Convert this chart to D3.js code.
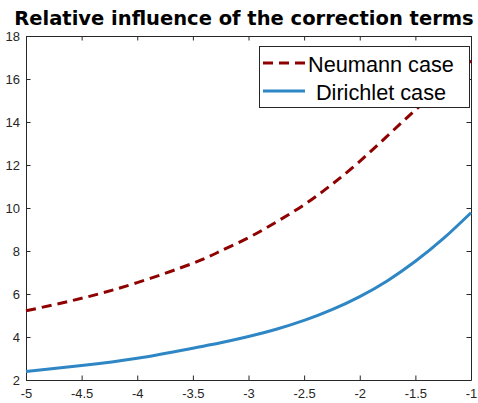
<!DOCTYPE html>
<html>
<head>
<meta charset="utf-8">
<script src="https://cdn.jsdelivr.net/npm/d3@7"></script>
<style>
  html, body { margin: 0; padding: 0; background: #fff; }
  svg { display: block; }
</style>
</head>
<body>
<svg id="chart" width="478" height="403"></svg>
<script>
const titleText = "Relative influence of the correction terms";
const xValues = [-5, -4.5, -4, -3.5, -3.25, -3, -2.75, -2.5, -2.25, -2, -1.75, -1.5, -1.25, -1];
const neumannValues = [5.22, 5.80, 6.53, 7.43, 8.0, 8.62, 9.35, 10.15, 11.1, 12.17, 13.36, 14.56, 15.71, 16.85];
const dirichletValues = [2.40, 2.67, 3.01, 3.48, 3.73, 4.02, 4.36, 4.77, 5.27, 5.88, 6.62, 7.52, 8.57, 9.78];
const seriesNames = ["Neumann case", "Dirichlet case"];
const xTicks = [-5, -4.5, -4, -3.5, -3, -2.5, -2, -1.5, -1];
const yTicks = [2, 4, 6, 8, 10, 12, 14, 16, 18];

const svg = d3.select("#chart");
const L = 26, R = 471, T = 36, B = 380;
const x = d3.scaleLinear().domain([-5, -1]).range([L, R]);
const y = d3.scaleLinear().domain([2, 18]).range([B, T]);
const axisColor = "#262626";
const font = "'Liberation Sans', Arial, Helvetica, sans-serif";
const fmt = d => String(d);

// Axes with inward ticks
const tl = 4.5;
const gx = svg.append("g").attr("transform", `translate(0,${B})`)
  .call(d3.axisBottom(x).tickValues(xTicks).tickSizeInner(-tl).tickSizeOuter(0).tickPadding(9).tickFormat(fmt));
const gxt = svg.append("g").attr("transform", `translate(0,${T})`)
  .call(d3.axisTop(x).tickValues(xTicks).tickSizeInner(-tl).tickSizeOuter(0).tickFormat(""));
const gy = svg.append("g").attr("transform", `translate(${L},0)`)
  .call(d3.axisLeft(y).tickValues(yTicks).tickSizeInner(-tl).tickSizeOuter(0).tickPadding(6).tickFormat(fmt));
const gyr = svg.append("g").attr("transform", `translate(${R},0)`)
  .call(d3.axisRight(y).tickValues(yTicks).tickSizeInner(-tl).tickSizeOuter(0).tickFormat(""));
[gx, gxt, gy, gyr].forEach(g => {
  g.selectAll("path.domain").attr("stroke", axisColor).attr("stroke-width", 1);
  g.selectAll(".tick line").attr("stroke", axisColor).attr("stroke-width", 1);
  g.selectAll("text").attr("fill", axisColor).attr("font-family", font).attr("font-size", 13);
});
gx.selectAll("text").attr("dy", "0.71em");

// Lines
const lineGen = vals => d3.line().curve(d3.curveNatural)
  .x((d, i) => x(xValues[i])).y(d => y(d))(vals);

svg.append("path").attr("d", lineGen(dirichletValues))
  .attr("fill", "none").attr("stroke", "#2e86c4").attr("stroke-width", 3);
svg.append("path").attr("d", lineGen(neumannValues))
  .attr("fill", "none").attr("stroke", "#8f0000").attr("stroke-width", 3)
  .attr("stroke-dasharray", "10,6");

// Legend
const lg = svg.append("g");
lg.append("rect").attr("x", 259.5).attr("y", 46.5).attr("width", 210).attr("height", 61)
  .attr("fill", "#fff").attr("stroke", axisColor).attr("stroke-width", 1);
const legendRows = [
  {name: seriesNames[0], color: "#8f0000", dash: "10,6", ly: 63, ty: 72},
  {name: seriesNames[1], color: "#2e86c4", dash: null, ly: 91, ty: 99.5}
];
legendRows.forEach(r => {
  lg.append("line").attr("x1", 263).attr("x2", 305).attr("y1", r.ly).attr("y2", r.ly)
    .attr("stroke", r.color).attr("stroke-width", 3)
    .attr("stroke-dasharray", r.dash);
  lg.append("text").attr("x", 381).attr("y", r.ty).attr("text-anchor", "middle")
    .attr("font-family", font).attr("font-size", 21.7).attr("fill", "#000").text(r.name);
});

// Title
svg.append("text").attr("x", 244).attr("y", 25).attr("text-anchor", "middle")
  .attr("font-family", "'DejaVu Sans', sans-serif").attr("font-weight", "bold")
  .attr("font-size", 19.5).attr("fill", "#000")
  .text(titleText);
</script>
</body>
</html>
